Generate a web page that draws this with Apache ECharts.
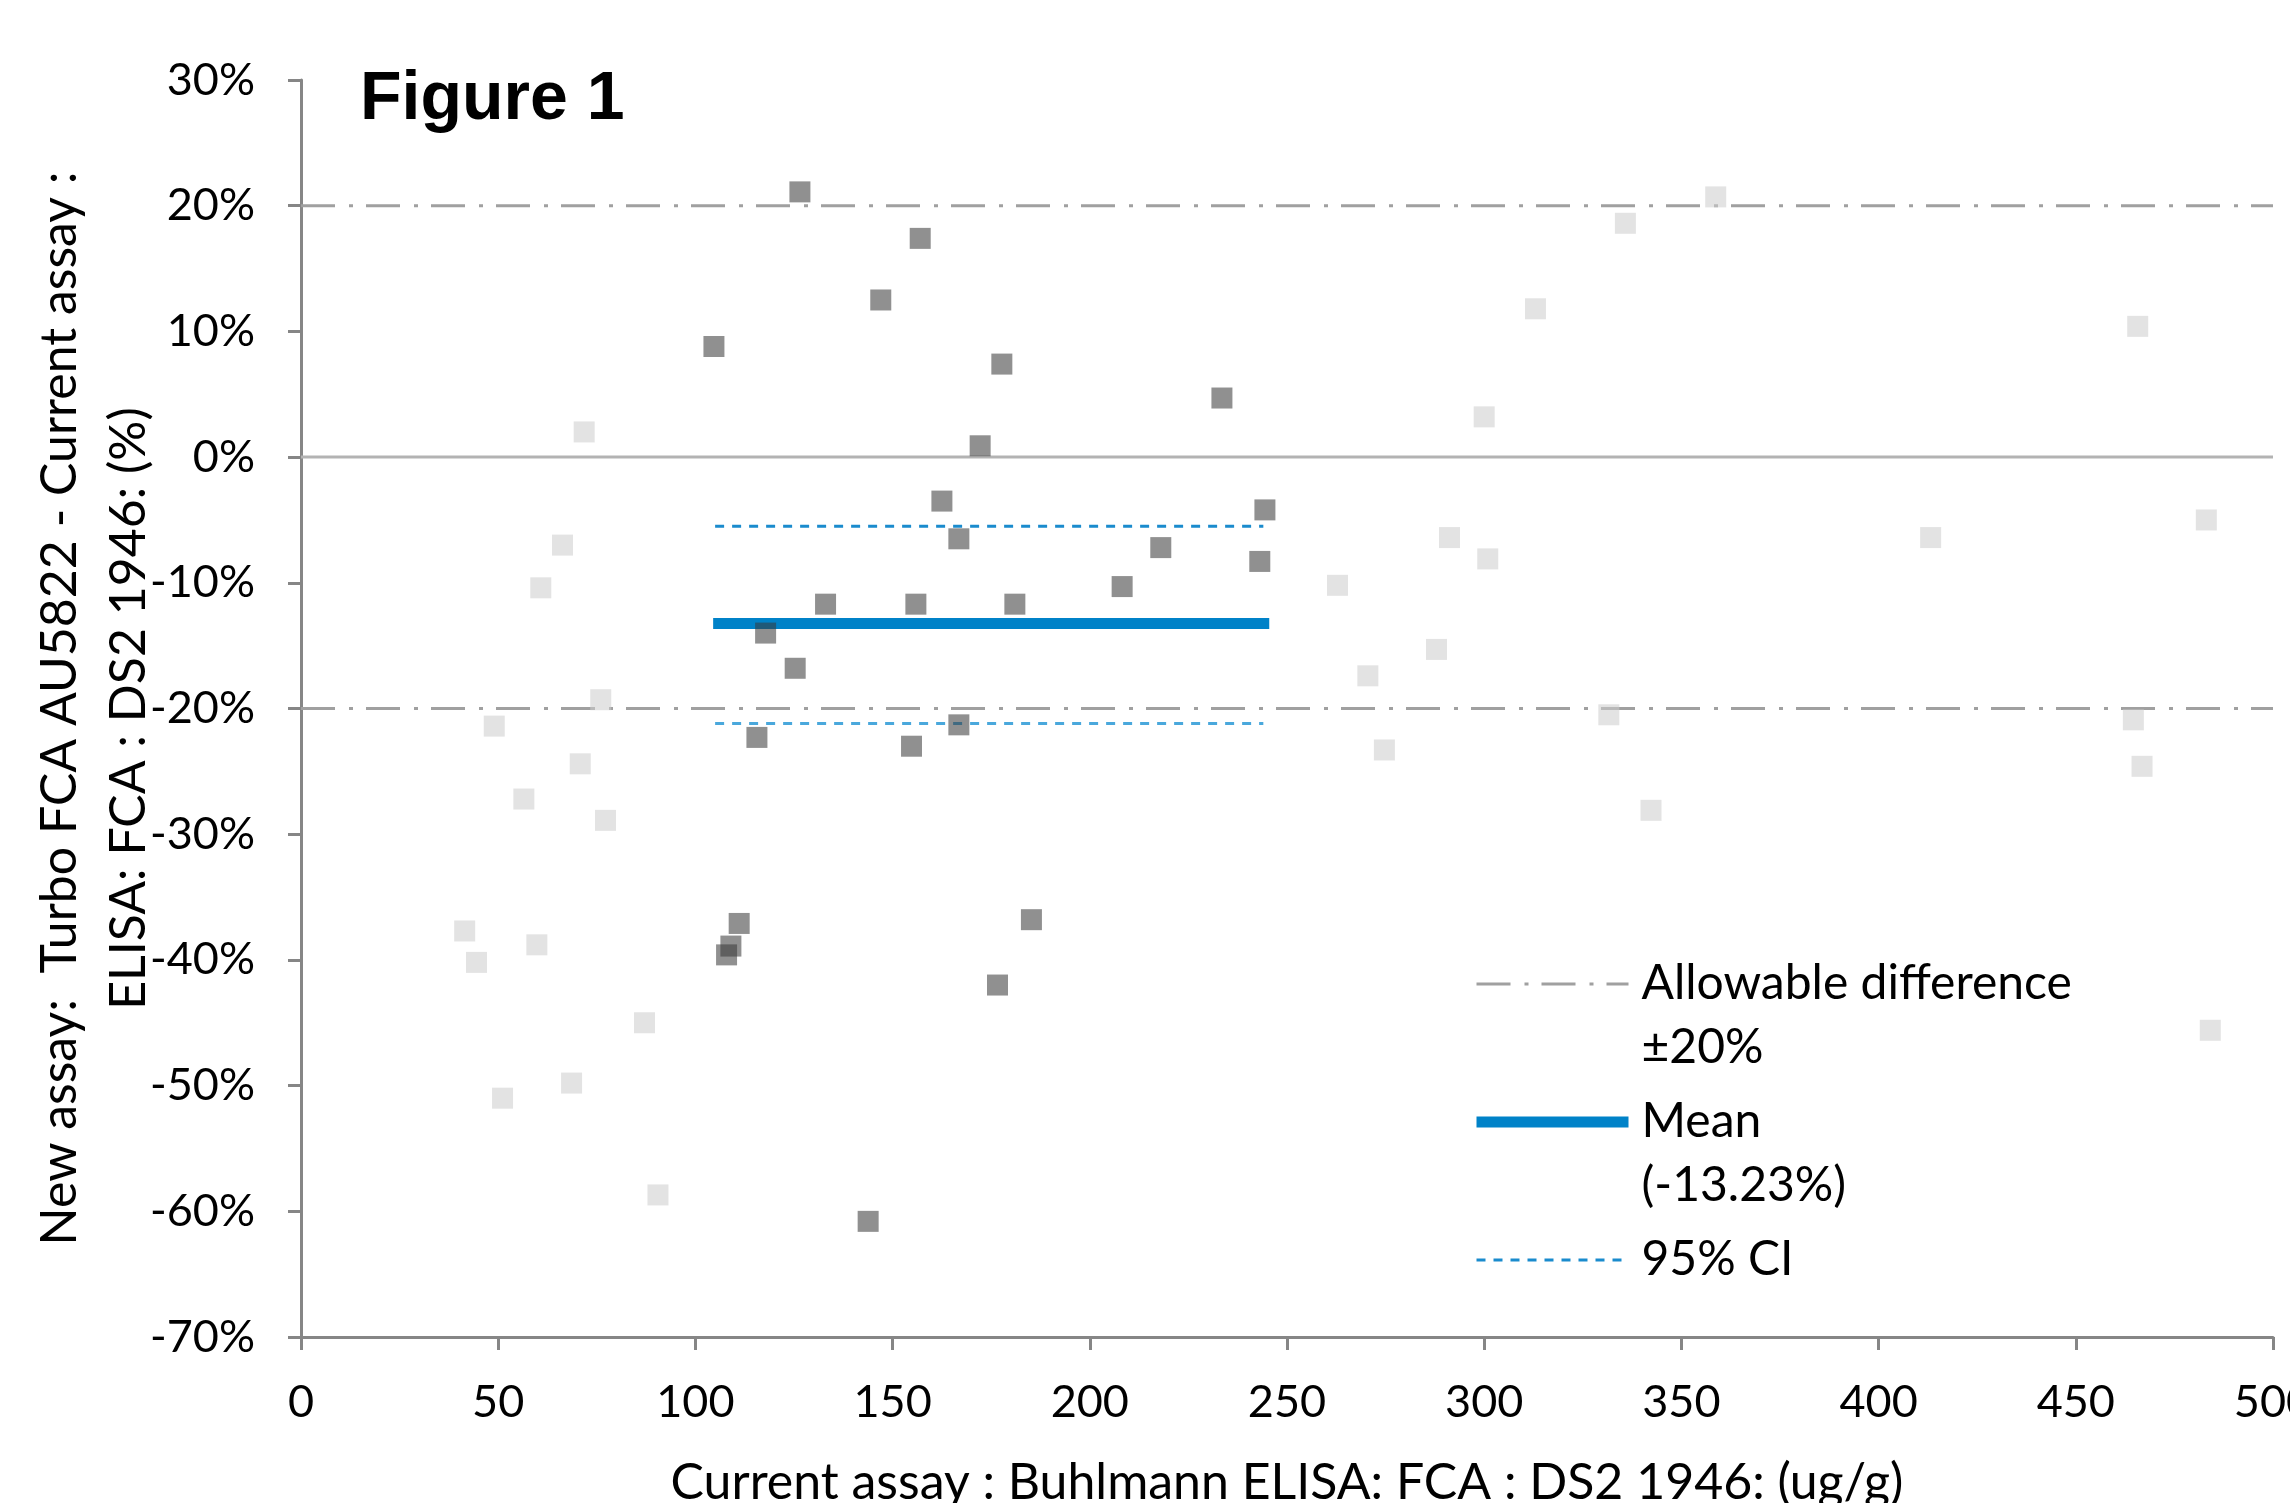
<!DOCTYPE html>
<html>
<head>
<meta charset="utf-8">
<script src="https://cdn.jsdelivr.net/npm/echarts@6/dist/echarts.min.js"></script>
<style>
html,body{margin:0;padding:0;background:#ffffff;}
#chart{width:2290px;height:1503px;}
</style>
</head>
<body>
<div id="chart"></div>
<script>
// Axis scales
const xMin = 0, xMax = 500, xStep = 50;
const yMin = -70, yMax = 30, yStep = 10;

// Samples within the 100-250 ug/g range (dark markers)
const inRangeX = [126.5, 157.0, 147.0, 104.7, 177.7, 233.5, 172.2, 162.5, 244.4, 166.8, 218.0, 243.1, 208.2, 133.0, 155.9, 181.0, 117.8, 125.3, 115.6, 154.8, 166.8, 111.1, 109.0, 107.9, 185.2, 176.6, 143.8];
const inRangeY = [21.1, 17.4, 12.5, 8.8, 7.4, 4.7, 0.9, -3.5, -4.2, -6.5, -7.2, -8.3, -10.3, -11.7, -11.7, -11.7, -14.0, -16.8, -22.3, -23.0, -21.3, -37.1, -38.9, -39.6, -36.8, -42.0, -60.8];

// Samples outside that range (light markers)
const outRangeX = [71.8, 66.3, 60.8, 76.0, 49.0, 70.8, 56.5, 77.2, 41.5, 44.5, 59.8, 87.1, 68.6, 51.1, 90.5, 358.7, 335.8, 313.0, 300.0, 291.2, 300.9, 262.8, 270.5, 287.9, 274.7, 331.6, 342.3, 413.2, 465.7, 483.1, 464.6, 466.8, 484.1];
const outRangeY = [2.0, -7.0, -10.4, -19.3, -21.4, -24.4, -27.2, -28.9, -37.7, -40.2, -38.8, -45.0, -49.8, -51.0, -58.7, 20.7, 18.6, 11.8, 3.2, -6.4, -8.1, -10.2, -17.4, -15.3, -23.3, -20.5, -28.1, -6.4, 10.4, -5.0, -20.9, -24.6, -45.6];

// Reference lines
const allowableDiff = 20;
const meanDiff = -13.23;
const ciBounds = [-5.5, -21.2];
const meanSpan = [104.5, 245.5];
const ciSpan = [105, 244];

// Legend labels (second lines)
const legendNames = ['Allowable difference', 'Mean', '95% CI'];
const legendSub = ['±20%', '(' + meanDiff.toFixed(2) + '%)', ''];

const FONT = 'Lato';
const pair = (xs, ys) => xs.map((x, i) => [x, ys[i]]);

const dashDot = [34, 14, 4, 13];
const ciDash = [9, 8];

const chart = echarts.init(document.getElementById('chart'), null, {renderer: 'canvas'});
const option = {
  animation: false,
  backgroundColor: '#ffffff',
  title: {
    text: 'Figure 1',
    left: 360, top: 66, padding: 0,
    textStyle: {fontFamily: 'Liberation Sans', fontWeight: 'bold', fontSize: 68, lineHeight: 68, color: '#000'}
  },
  grid: {left: 301, right: 17, top: 80, bottom: 166, containLabel: false, outerBoundsMode: 'none'},
  legend: {
    orient: 'vertical',
    left: 1471, top: 882, padding: 0,
    itemGap: -66,
    itemWidth: 152, itemHeight: 14,
    selectedMode: false,
    data: legendNames.map((n, i) => ({
      name: n,
      itemStyle: {opacity: 0},
      lineStyle: {width: i === 1 ? 11 : 3}
    })),
    formatter: (name) => {
      const i = legendNames.indexOf(name);
      return '\n' + name + '\n' + legendSub[i];
    },
    textStyle: {fontFamily: FONT, fontSize: 48, lineHeight: 64, color: '#000', padding: [0, 0, 12, 8]}
  },
  xAxis: {
    type: 'value', min: xMin, max: xMax, interval: xStep,
    name: 'Current assay : Buhlmann ELISA: FCA : DS2 1946: (ug/g)',
    nameLocation: 'middle', nameGap: 121, nameMoveOverlap: false,
    nameTextStyle: {fontFamily: FONT, fontSize: 50, lineHeight: 50, color: '#000'},
    axisLine: {show: true, onZero: false, lineStyle: {color: '#868686', width: 3}},
    axisTick: {show: true, inside: false, length: 13, lineStyle: {color: '#868686', width: 3}},
    axisLabel: {fontFamily: FONT, fontSize: 45, lineHeight: 45, color: '#000', margin: 43},
    splitLine: {show: false}
  },
  yAxis: {
    type: 'value', min: yMin, max: yMax, interval: yStep,
    name: 'New assay:  Turbo FCA AU5822 - Current assay :\nELISA: FCA : DS2 1946: (%)',
    nameLocation: 'middle', nameGap: 138, nameMoveOverlap: false,
    nameTextStyle: {fontFamily: FONT, fontSize: 50, lineHeight: 69, color: '#000', align: 'center'},
    axisLine: {show: true, onZero: false, lineStyle: {color: '#868686', width: 3}},
    axisTick: {show: true, inside: false, length: 13, lineStyle: {color: '#868686', width: 3}},
    axisLabel: {fontFamily: FONT, fontSize: 45, lineHeight: 45, color: '#000', margin: 46, formatter: (v) => v + '%'},
    splitLine: {show: false}
  },
  series: [
    {type: 'line', name: 'zero', data: [[xMin, 0], [xMax, 0]], symbol: 'none', silent: true, z: 1,
     lineStyle: {color: '#b3b3b3', width: 3}},
    {type: 'line', name: 'Allowable difference', data: [[xMin, allowableDiff], [xMax, allowableDiff]], symbol: 'none', silent: true, z: 2,
     itemStyle: {color: '#a0a0a0'}, lineStyle: {color: '#a0a0a0', width: 3, type: dashDot}},
    {type: 'line', name: 'Allowable difference', data: [[xMin, -allowableDiff], [xMax, -allowableDiff]], symbol: 'none', silent: true, z: 2,
     itemStyle: {color: '#a0a0a0'}, lineStyle: {color: '#a0a0a0', width: 3, type: dashDot}},
    {type: 'line', name: 'Mean', data: [[meanSpan[0], meanDiff], [meanSpan[1], meanDiff]], symbol: 'none', silent: true, z: 3,
     itemStyle: {color: '#0082c8'}, lineStyle: {color: '#0082c8', width: 11, cap: 'butt'}},
    {type: 'line', name: '95% CI', data: [[ciSpan[0], ciBounds[0]], [ciSpan[1], ciBounds[0]]], symbol: 'none', silent: true, z: 3,
     itemStyle: {color: '#1a8bcd'}, lineStyle: {color: '#1a8bcd', width: 3, type: ciDash}},
    {type: 'line', name: '95% CI', data: [[ciSpan[0], ciBounds[1]], [ciSpan[1], ciBounds[1]]], symbol: 'none', silent: true, z: 3,
     itemStyle: {color: '#4aa8dc'}, lineStyle: {color: '#4aa8dc', width: 3, type: ciDash}},
    {type: 'scatter', name: 'Outside range', data: pair(outRangeX, outRangeY), symbol: 'rect', symbolSize: 21, silent: true, z: 5,
     itemStyle: {color: 'rgba(205,205,205,0.7)'}},
    {type: 'scatter', name: 'Within range', data: pair(inRangeX, inRangeY), symbol: 'rect', symbolSize: 21, silent: true, z: 6,
     itemStyle: {color: 'rgba(57,57,57,0.7)'}}
  ]
};
chart.setOption(option);
</script>
</body>
</html>
